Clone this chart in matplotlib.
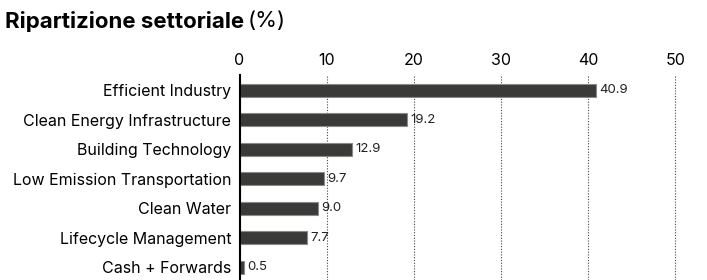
import numpy as np
import matplotlib.pyplot as plt

plt.rcParams['font.family'] = ['Inter', 'DejaVu Sans']

# sector breakdown data
sectors = ['Efficient Industry', 'Clean Energy Infrastructure', 'Building Technology',
           'Low Emission Transportation', 'Clean Water', 'Lifecycle Management',
           'Cash + Forwards']
weights = [40.9, 19.2, 12.9, 9.7, 9.0, 7.7, 0.5]
ticks = [0, 10, 20, 30, 40, 50]

fig = plt.figure(figsize=(7.07, 2.8), dpi=100)
ax = fig.add_axes([0.3388, 0.0, 0.98 - 0.3388, 0.732])

y = np.arange(len(sectors))
ax.barh(y, weights, height=0.44, color='#3a3a38', edgecolor='#8a8a88', linewidth=0.8, zorder=3)

for yi, w in zip(y, weights):
    ax.text(w + 0.4, yi, f'{w:.1f}', va='center', ha='left', fontsize=9.5, color='#222222', zorder=4)

ax.set_xlim(0, 52)
ax.set_ylim(6.44, -0.51)
ax.set_yticks(y)
ax.set_yticklabels(sectors, fontsize=11.5)
ax.set_xticks(ticks)
ax.xaxis.tick_top()
ax.tick_params(axis='x', length=0, labelsize=11.5, pad=5)
ax.tick_params(axis='y', length=0, pad=6)
ax.xaxis.grid(True, linestyle=(0, (1, 1.5)), color='#444444', linewidth=0.8, zorder=0)

for s in ['top', 'right', 'bottom']:
    ax.spines[s].set_visible(False)
ax.spines['left'].set_linewidth(1.5)
ax.spines['left'].set_zorder(5)

t1 = fig.text(0.007, 0.925, 'Ripartizione settoriale', fontsize=16, fontweight='bold', va='center')
fig.canvas.draw()
bb = t1.get_window_extent()
fig.text((bb.x1 + 4) / fig.bbox.width, 0.925, '(%)', fontsize=16, va='center')

fig.savefig('out.png', dpi=100)
